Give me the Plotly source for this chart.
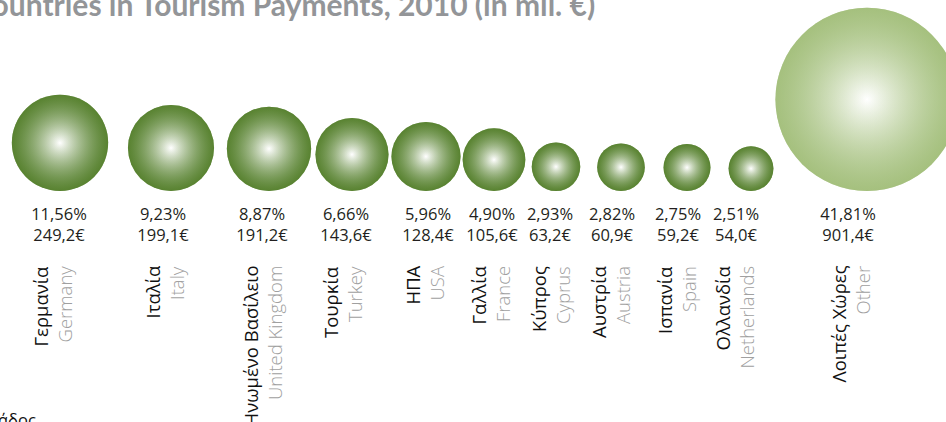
import math
import plotly.graph_objects as go

# ---------------- data ----------------
greek = ["Γερμανία", "Ιταλία", "Ηνωμένο Βασίλειο", "Τουρκία", "ΗΠΑ", "Γαλλία",
         "Κύπρος", "Αυστρία", "Ισπανία", "Ολλανδία", "Λοιπές Χώρες"]
english = ["Germany", "Italy", "United Kingdom", "Turkey", "USA", "France",
           "Cyprus", "Austria", "Spain", "Netherlands", "Other"]
shares = [11.56, 9.23, 8.87, 6.66, 5.96, 4.90, 2.93, 2.82, 2.75, 2.51, 41.81]
payments = [249.2, 199.1, 191.2, 143.6, 128.4, 105.6, 63.2, 60.9, 59.2, 54.0, 901.4]

title_text = "Countries in Tourism Payments, 2010 (in mil. €)"
source_text = "Τράπεζα της Ελλάδος"

# ---------------- layout constants (pixel space) ----------------
W, H = 946, 422
bubble_x = [60, 171, 269, 352, 426, 494, 556, 621, 687, 751, 867]
label_x = [59, 163, 262, 346, 428, 492, 550, 612, 678, 736, 848]
name_x = [52, 164, 262, 342, 424, 490, 550, 610, 676, 734, 850]
baseline = 191
K = 6.1  # px diameter per sqrt(value)
sizeref = 2.0 / K ** 2

def fmt(v, dec):
    return f"{v:.{dec}f}".replace(".", ",")

def diam(v):
    return K * math.sqrt(v)

font_fam = "Open Sans, Noto Sans, sans-serif"

fig = go.Figure()

def bubbles(xs, vals, rgb):
    ys = [baseline - diam(v) / 2 for v in vals]
    r, g, b = rgb
    # base radial gradient: white centre -> green edge
    fig.add_trace(go.Scatter(
        x=xs, y=ys, mode="markers",
        marker=dict(size=vals, sizemode="area", sizeref=sizeref,
                    color=f"rgb({r},{g},{b})",
                    gradient=dict(type="radial", color="#ffffff"),
                    line=dict(width=0)),
        hoverinfo="skip", showlegend=False))
    # overlay to deepen the outer ring
    fig.add_trace(go.Scatter(
        x=xs, y=ys, mode="markers",
        marker=dict(size=vals, sizemode="area", sizeref=sizeref,
                    color=f"rgba({r},{g},{b},1)",
                    gradient=dict(type="radial", color=f"rgba({r},{g},{b},0)"),
                    line=dict(width=0)),
        hoverinfo="skip", showlegend=False))

n = len(payments) - 1
bubbles(bubble_x[:n], payments[:n], (72, 118, 28))
bubbles(bubble_x[n:], payments[n:], (156, 186, 113))

# percentage & value texts
fig.add_trace(go.Scatter(
    x=label_x, y=[216] * len(shares), mode="text",
    text=[fmt(s, 2) + "%" for s in shares],
    textfont=dict(family=font_fam, size=16.5, color="#231f20"),
    hoverinfo="skip", showlegend=False))
fig.add_trace(go.Scatter(
    x=label_x, y=[237] * len(payments), mode="text",
    text=[fmt(p, 1) + "€" for p in payments],
    textfont=dict(family=font_fam, size=16.5, color="#231f20"),
    hoverinfo="skip", showlegend=False))

annotations = []
for nx, g, e in zip(name_x, greek, english):
    annotations.append(dict(x=nx - 12, y=264, xref="x", yref="y", text=g,
                            textangle=-90, showarrow=False, xanchor="center",
                            yanchor="top",
                            font=dict(family=font_fam, size=18.5, color="#111111")))
    annotations.append(dict(x=nx + 12, y=264, xref="x", yref="y", text=e,
                            textangle=-90, showarrow=False, xanchor="center",
                            yanchor="top",
                            font=dict(family=font_fam, size=18.5, color="#a0a0a0",
                                      weight=300)))

annotations.append(dict(x=597, y=24, xref="x", yref="y", text=title_text,
                        showarrow=False, xanchor="right", yanchor="bottom",
                        font=dict(family="Lato, sans-serif", size=30,
                                  color="#939598", weight="bold")))
annotations.append(dict(x=38, y=406, xref="x", yref="y", text=source_text,
                        showarrow=False, xanchor="right", yanchor="top",
                        font=dict(family=font_fam, size=16.5, color="#111111")))

fig.update_layout(
    width=W, height=H,
    margin=dict(l=0, r=0, t=0, b=0),
    paper_bgcolor="white", plot_bgcolor="white",
    xaxis=dict(range=[0, W], visible=False, fixedrange=True),
    yaxis=dict(range=[H, 0], visible=False, fixedrange=True),
    annotations=annotations,
)

fig.write_html("out.html", config={"displayModeBar": False},
               post_script="document.body.style.margin='0';document.body.style.overflow='hidden';")
